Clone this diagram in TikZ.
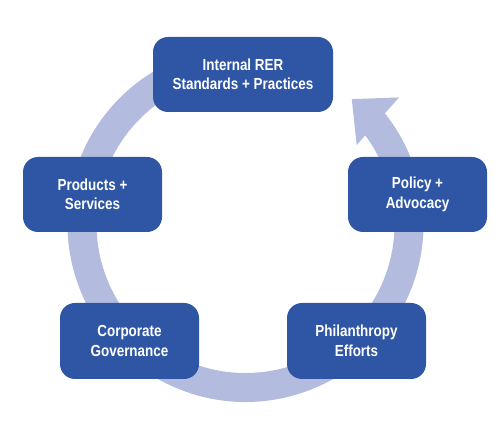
\documentclass[tikz,border=0pt]{standalone}
\usepackage{fontspec}
\setmainfont{Liberation Sans}[FakeStretch=0.84]
\definecolor{boxblue}{HTML}{2E56A4}
\definecolor{ringblue}{HTML}{B3BCDE}
\begin{document}
\begin{tikzpicture}[x=1pt,y=1pt,
  stagebox/.style={fill=boxblue, rounded corners=15pt, minimum width=139pt, minimum height=75pt,
    text=white, align=center, inner sep=0pt,
    font=\fontsize{16}{19.5}\selectfont\bfseries},
  ring/.style={ringblue, line width=29pt}]
\useasboundingbox (0,0) rectangle (500,422);
\coordinate (C) at (245.5,198);
% ring with arrow
\draw[ring] ([shift={(100:163.5)}]C) arc[start angle=100, end angle=400, radius=163.5pt];
\fill[ringblue] ([shift={(39.5:199)}]C) -- ([shift={(49.6:164)}]C) -- ([shift={(35.4:136.4)}]C) -- cycle;
% boxes
\node[stagebox, minimum width=180pt] (top) at (243,347.5) {Internal RER\\Standards + Practices};
\node[stagebox] (prod) at (92.5,227.5) {Products +\\Services};
\node[stagebox] (pol) at (417.5,227.5) {Policy +\\Advocacy};
\node[stagebox, minimum height=76pt] (corp) at (129.5,81) {Corporate\\Governance};
\node[stagebox, minimum height=76pt] (phil) at (356.5,81) {Philanthropy\\Efforts};
\end{tikzpicture}
\end{document}
